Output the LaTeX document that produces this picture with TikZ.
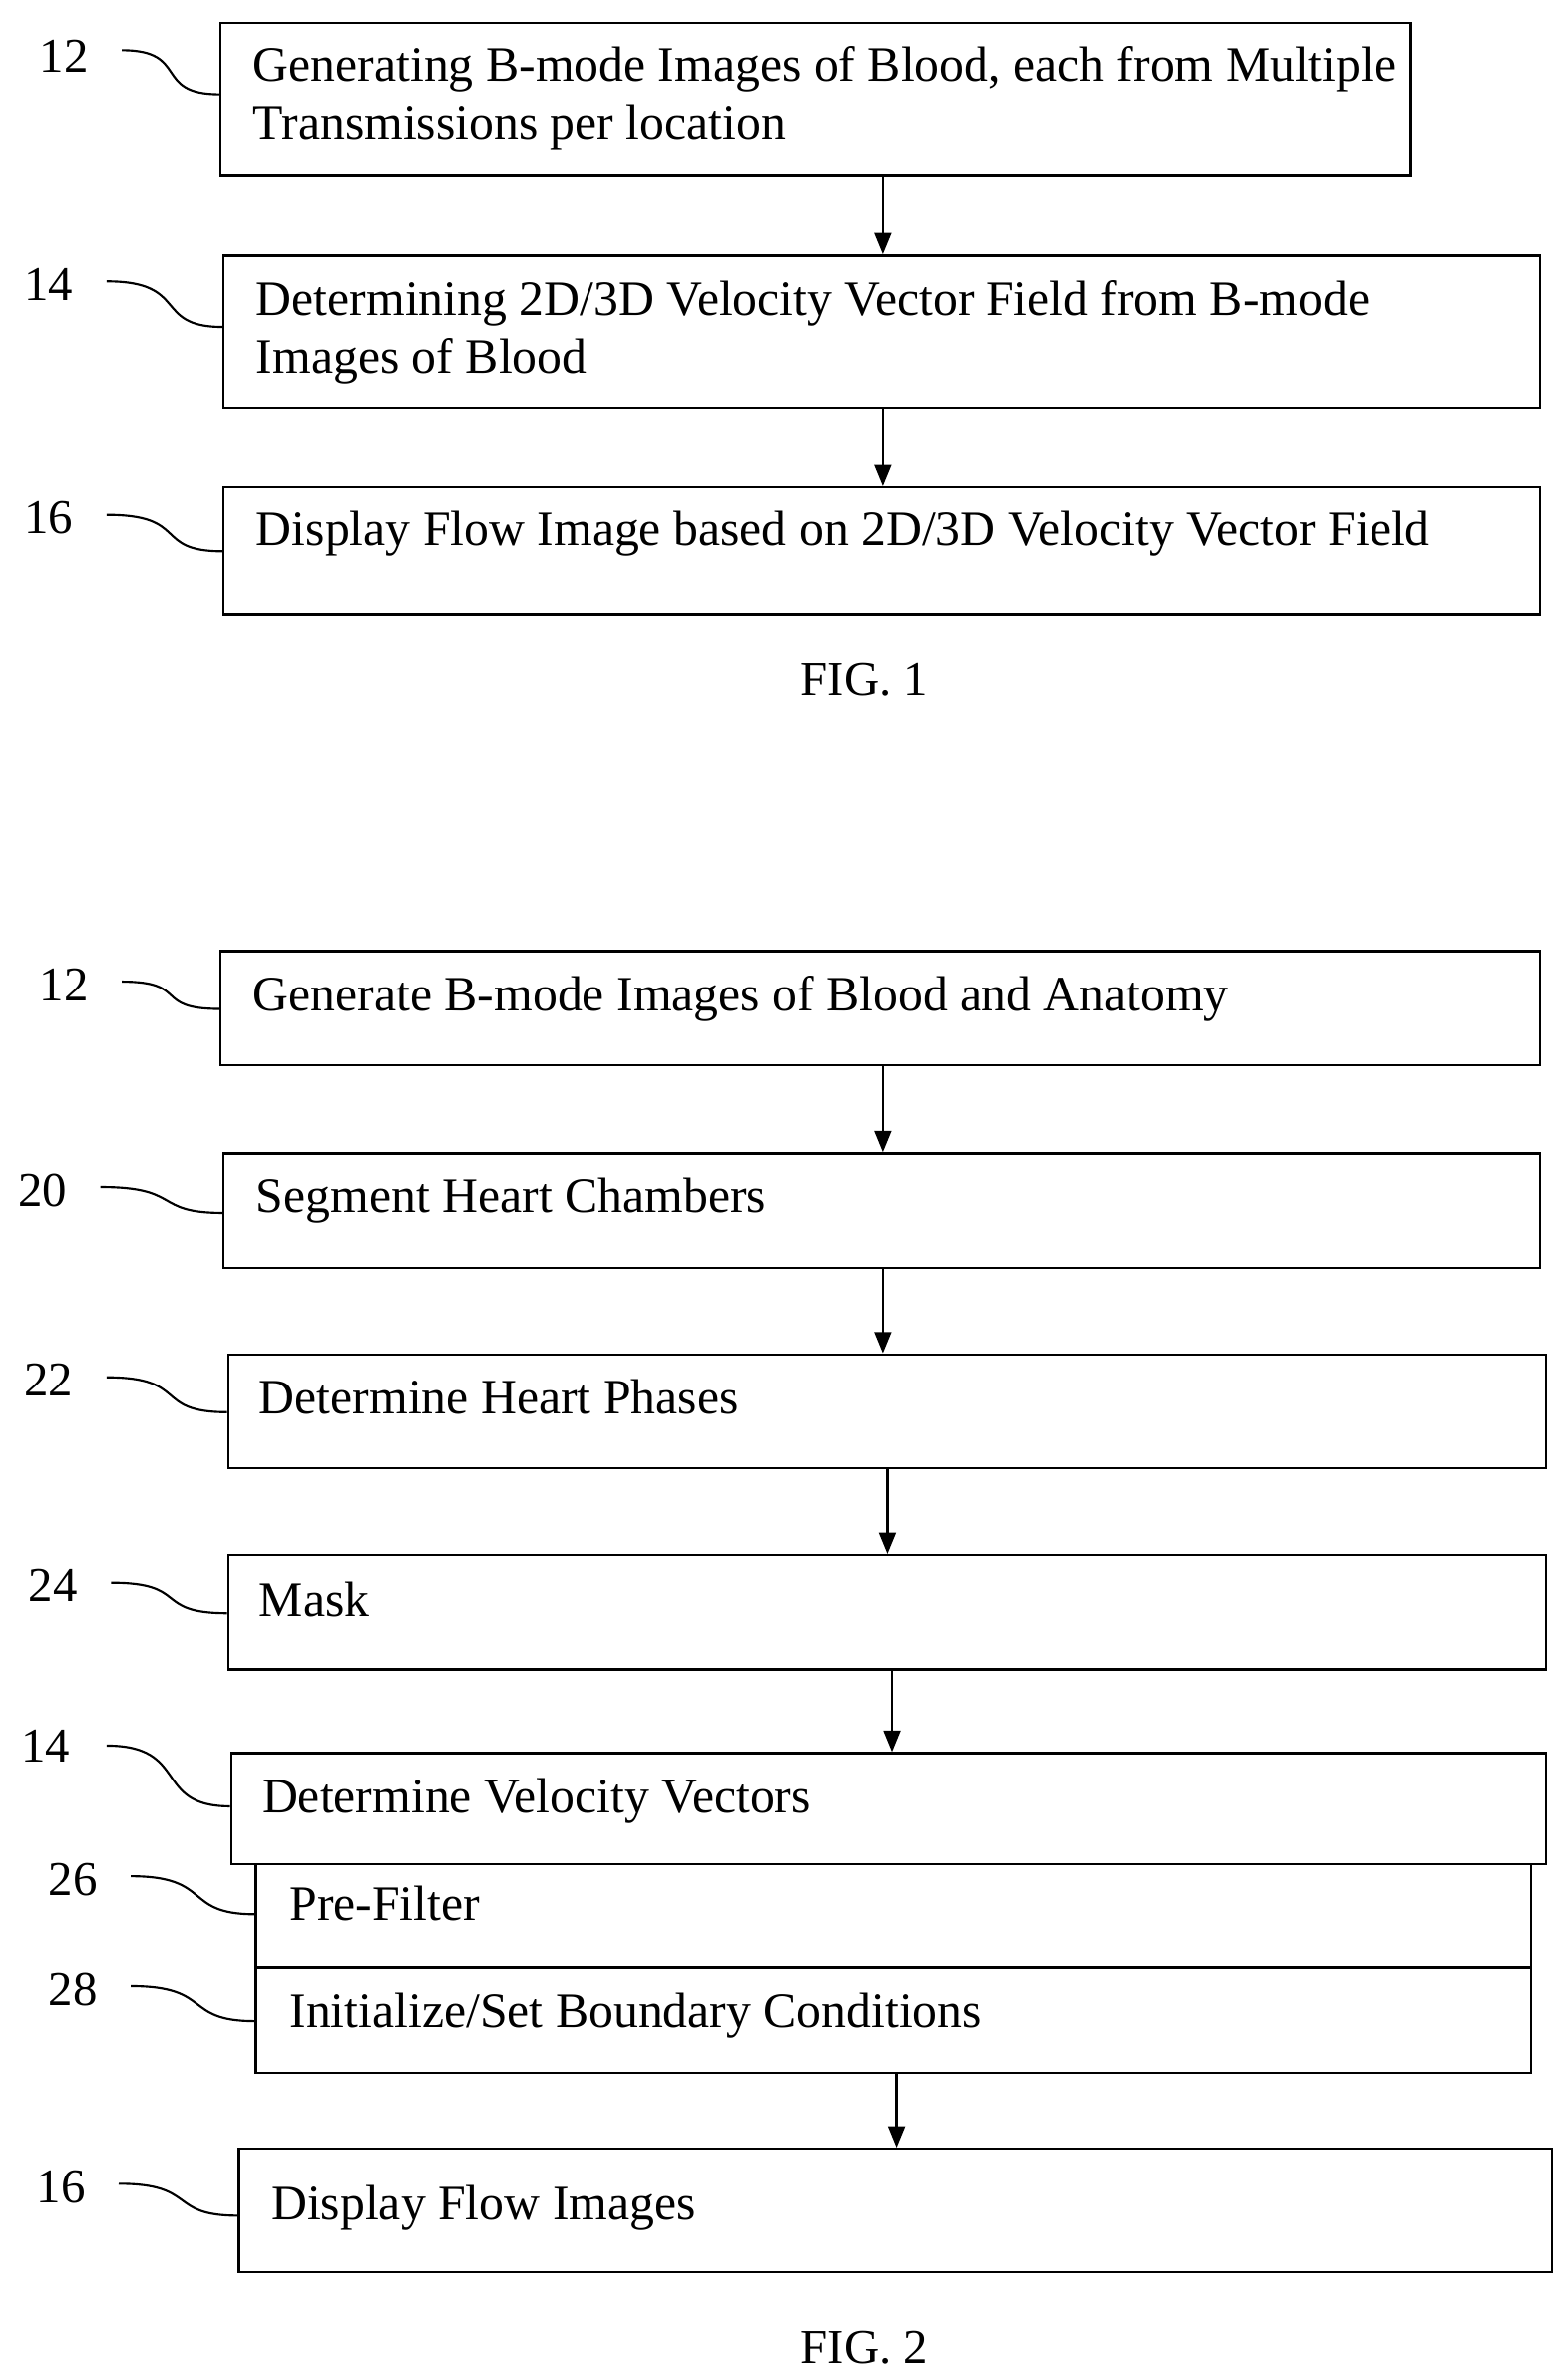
\documentclass[tikz,border=0pt]{standalone}
\usepackage{fontspec}
\setmainfont{Liberation Serif}
\usetikzlibrary{fit,arrows.meta}
\tikzset{
 bx/.style={draw, line width=0.8pt, inner sep=0pt},
 txt/.style={anchor=base west, inner sep=0pt, font=\fontsize{16.3}{19}\selectfont},
 txt2/.style={anchor=north west, inner sep=0pt, font=\fontsize{16.3}{19}\selectfont, align=left},
 lbl/.style={anchor=center, inner sep=0pt, font=\fontsize{16}{18}\selectfont},
 sq/.style={line width=0.7pt},
 arr/.style={line width=0.8pt, -{Triangle[length=7pt,width=5.5pt]}}
}
\newcommand\mybox[5]{\node[bx, fit={(#2,#3) (#4,#5)}] (#1) {};}
\begin{document}
\begin{tikzpicture}[x=0.5pt,y=-0.5pt]
\useasboundingbox (0,0) rectangle (1030,1560);
% FIG 1
\mybox{a12}{145}{15}{927}{115}
\mybox{a14}{147}{168}{1012}{268}
\mybox{a16}{147}{320}{1012}{404}
\node[txt2] (ta12) at (166,30) {Generating B-mode Images of Blood, each from Multiple\\Transmissions per location};
\node[txt2] (ta14) at (168,184) {Determining 2D/3D Velocity Vector Field from B-mode\\Images of Blood};
\node[txt] (ta16) at (168,358) {Display Flow Image based on 2D/3D Velocity Vector Field};
\node[lbl] (la12) at (42,37) {12};
\node[lbl] (la14) at (32,187) {14};
\node[lbl] (la16) at (32,340) {16};
\draw[sq] (80,33) .. controls (125,33) and (100,62) .. (a12.west |- 0,62);
\draw[sq] (70,185) .. controls (125,185) and (100,215) .. (a14.west |- 0,215);
\draw[sq] (70,338) .. controls (125,338) and (100,362) .. (a16.west |- 0,362);
\draw[arr] (a12.south -| 580,0) -- (a14.north -| 580,0);
\draw[arr] (a14.south -| 580,0) -- (a16.north -| 580,0);
\node[lbl] (f1) at (568,447) {FIG. 1};
% FIG 2
\mybox{b12}{145}{625}{1012}{700}
\mybox{b20}{147}{758}{1012}{833}
\mybox{b22}{150}{890}{1016}{965}
\mybox{b24}{150}{1022}{1016}{1097}
\mybox{b14}{152}{1152}{1016}{1225}
\mybox{b26}{168}{1225}{1006}{1293}
\mybox{b28}{168}{1293}{1006}{1362}
\mybox{b16}{157}{1412}{1020}{1493}
\node[txt] (tb12) at (166,664) {Generate B-mode Images of Blood and Anatomy};
\node[txt] (tb20) at (168,797) {Segment Heart Chambers};
\node[txt] (tb22) at (170,929) {Determine Heart Phases};
\node[txt] (tb24) at (170,1062) {Mask};
\node[txt] (tb14) at (172,1191) {Determine Velocity Vectors};
\node[txt] (tb26) at (190,1262) {Pre-Filter};
\node[txt] (tb28) at (190,1332) {Initialize/Set Boundary Conditions};
\node[txt] (tb16) at (178,1459) {Display Flow Images};
\node[lbl] (lb12) at (42,647) {12};
\node[lbl] (lb20) at (28,782) {20};
\node[lbl] (lb22) at (32,907) {22};
\node[lbl] (lb24) at (35,1042) {24};
\node[lbl] (lb14) at (30,1147) {14};
\node[lbl] (lb26) at (48,1235) {26};
\node[lbl] (lb28) at (48,1307) {28};
\node[lbl] (lb16) at (40,1437) {16};
\draw[sq] (80,645) .. controls (125,645) and (100,663) .. (b12.west |- 0,663);
\draw[sq] (66,780) .. controls (120,780) and (100,797) .. (b20.west |- 0,797);
\draw[sq] (70,905) .. controls (125,905) and (100,928) .. (b22.west |- 0,928);
\draw[sq] (73,1040) .. controls (125,1040) and (100,1060) .. (b24.west |- 0,1060);
\draw[sq] (70,1147) .. controls (125,1147) and (100,1187) .. (b14.west |- 0,1187);
\draw[sq] (86,1233) .. controls (140,1233) and (120,1258) .. (b26.west |- 0,1258);
\draw[sq] (86,1305) .. controls (140,1305) and (120,1328) .. (b28.west |- 0,1328);
\draw[sq] (78,1435) .. controls (130,1435) and (110,1456) .. (b16.west |- 0,1456);
\draw[arr] (b12.south -| 580,0) -- (b20.north -| 580,0);
\draw[arr] (b20.south -| 580,0) -- (b22.north -| 580,0);
\draw[arr] (b22.south -| 583,0) -- (b24.north -| 583,0);
\draw[arr] (b24.south -| 586,0) -- (b14.north -| 586,0);
\draw[arr] (b28.south -| 589,0) -- (b16.north -| 589,0);
\node[lbl] (f2) at (568,1543) {FIG. 2};
\end{tikzpicture}
\end{document}
